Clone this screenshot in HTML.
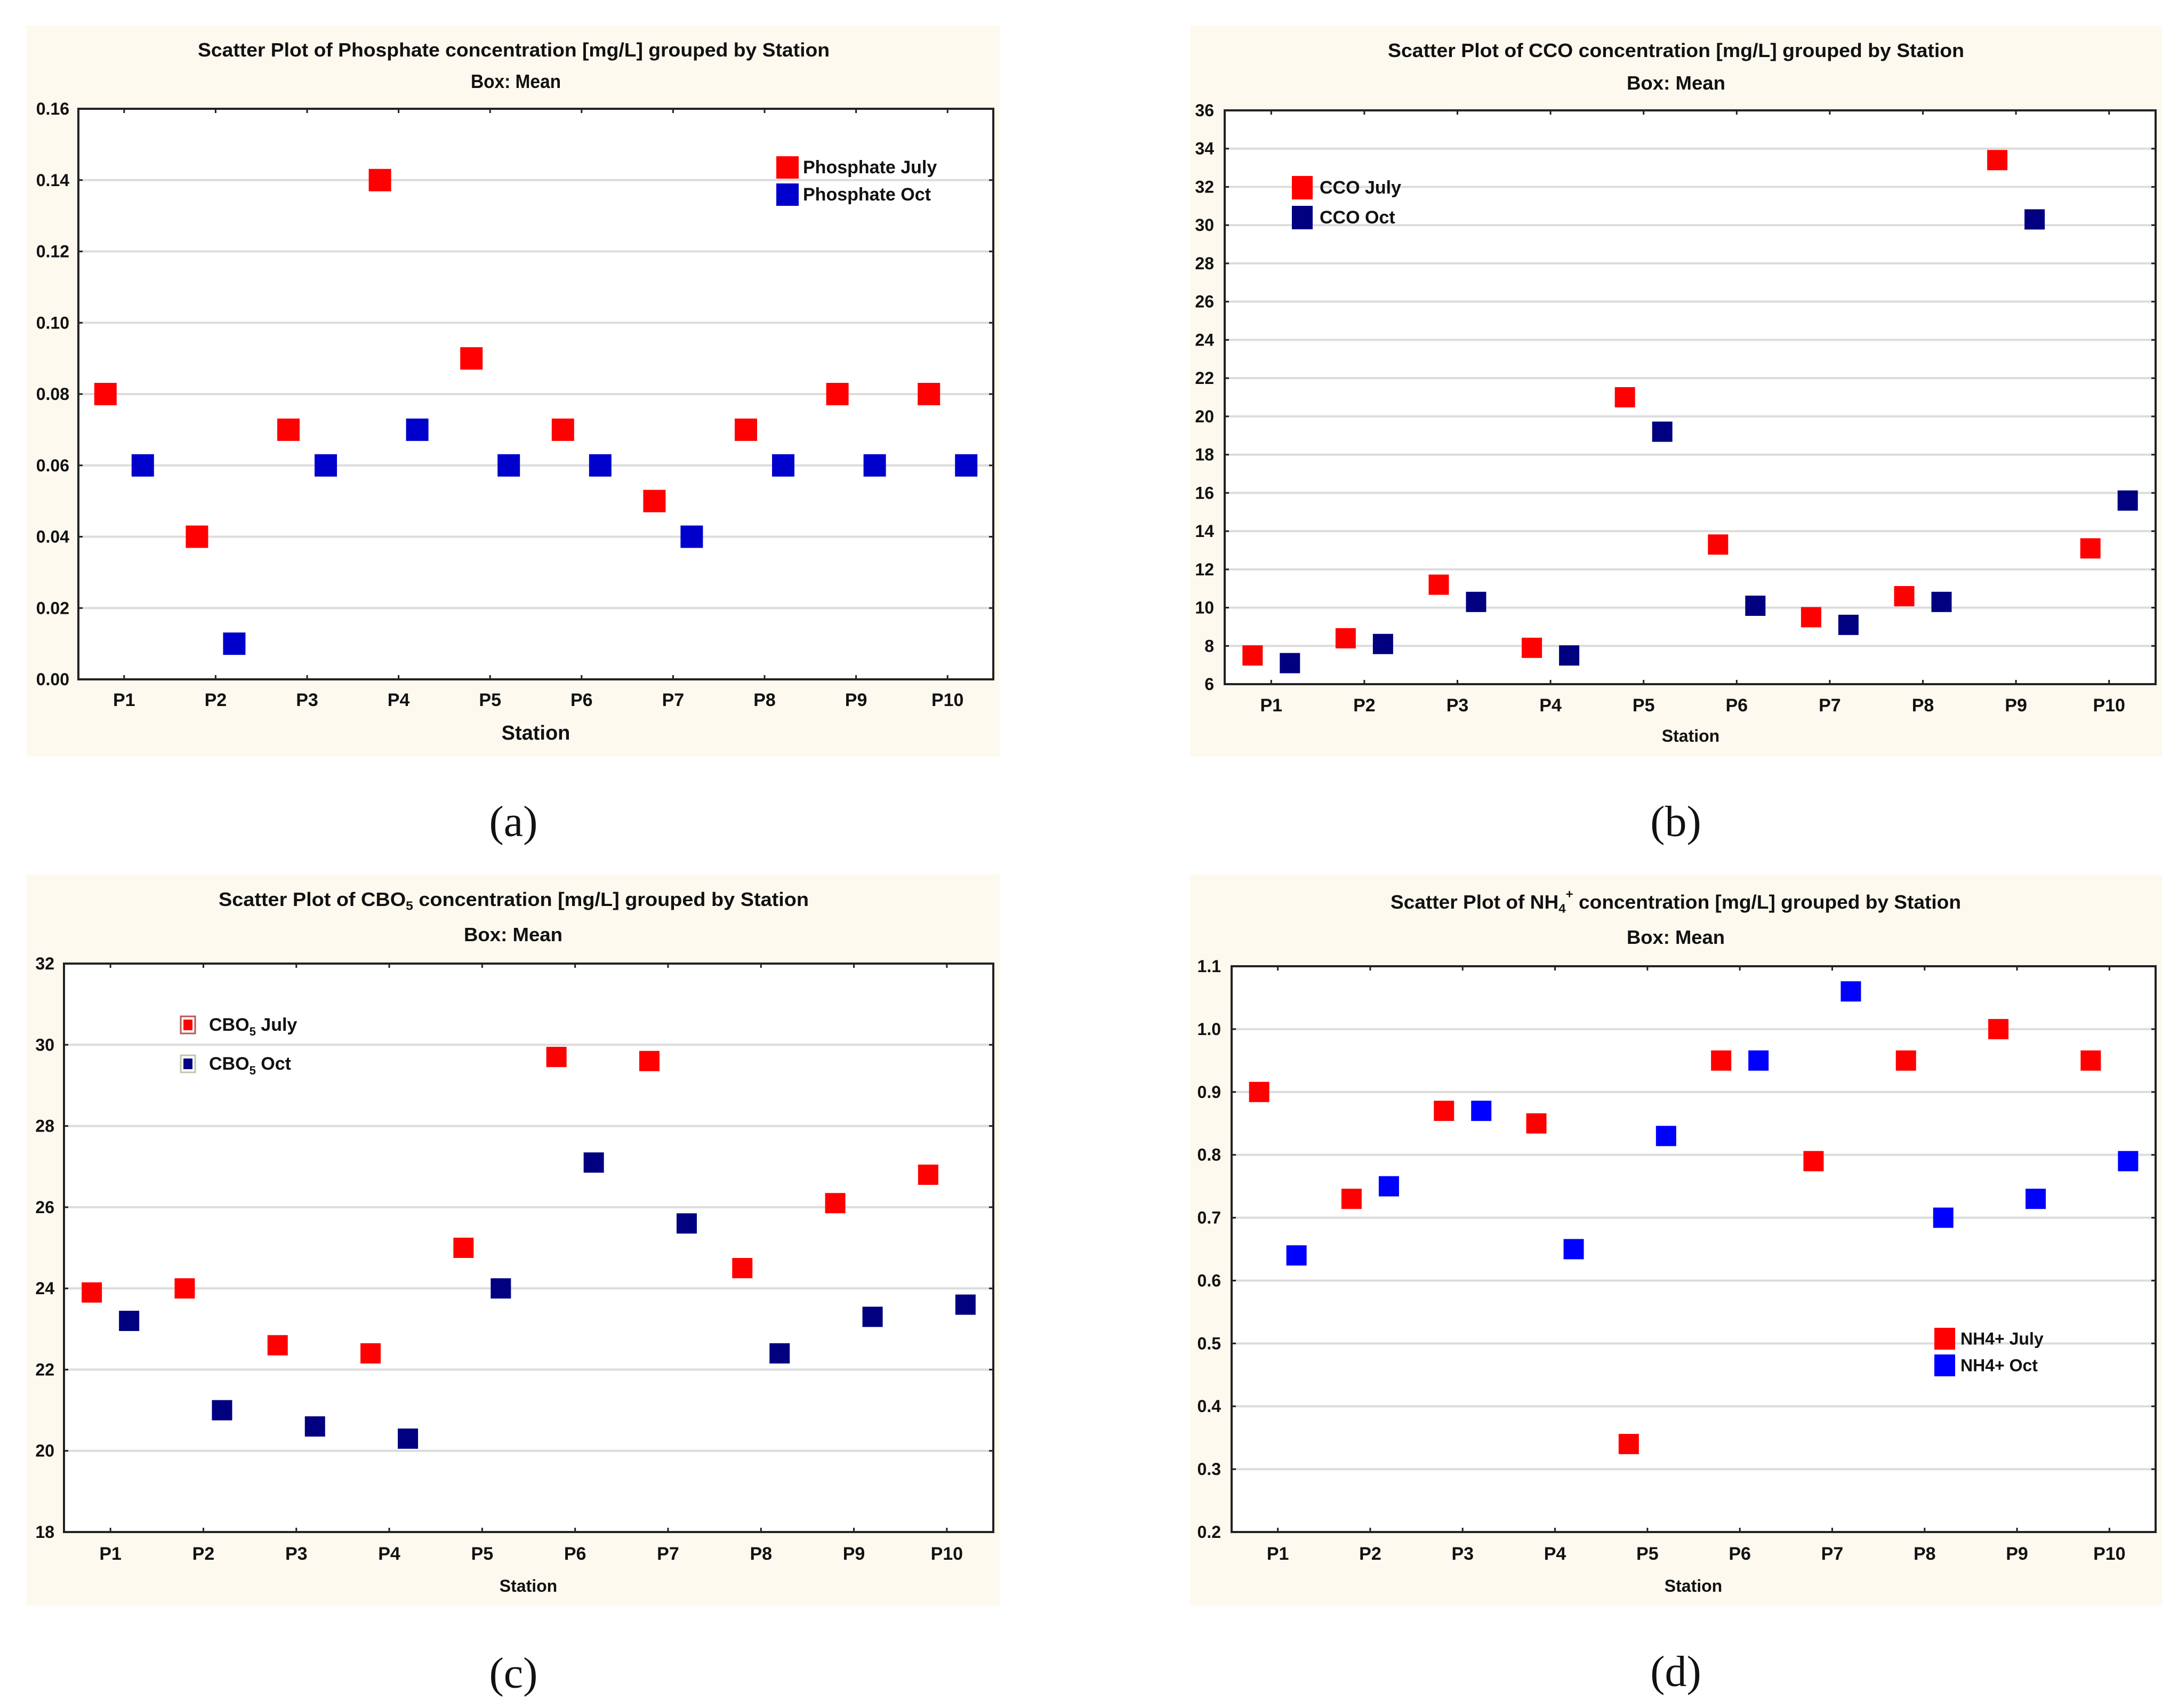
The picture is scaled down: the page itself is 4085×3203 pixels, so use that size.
<!DOCTYPE html>
<html><head><meta charset="utf-8"><style>
html,body{margin:0;padding:0;background:#fff;}
svg{display:block;}
text{font-family:"Liberation Sans",Arial,sans-serif;font-weight:bold;fill:#111;}
.cap{font-family:"Liberation Serif",serif;font-weight:normal;}
</style></head><body>
<svg id="fig" width="4085" height="3203" viewBox="0 0 4085 3203" xmlns="http://www.w3.org/2000/svg"></svg>
<script>
const categories = ["P1","P2","P3","P4","P5","P6","P7","P8","P9","P10"];
const phosJuly = [0.08,0.04,0.07,0.14,0.09,0.07,0.05,0.07,0.08,0.08];
const phosOct  = [0.06,0.01,0.06,0.07,0.06,0.06,0.04,0.06,0.06,0.06];
const phosTicks = ["0.00","0.02","0.04","0.06","0.08","0.10","0.12","0.14","0.16"];
const ccoJuly = [7.5,8.4,11.2,7.9,21,13.3,9.5,10.6,33.4,13.1];
const ccoOct  = [7.1,8.1,10.3,7.5,19.2,10.1,9.1,10.3,30.3,15.6];
const ccoTicks = ["6","8","10","12","14","16","18","20","22","24","26","28","30","32","34","36"];
const cboJuly = [23.9,24,22.6,22.4,25,29.7,29.6,24.5,26.1,26.8];
const cboOct  = [23.2,21,20.6,20.3,24,27.1,25.6,22.4,23.3,23.6];
const cboTicks = ["18","20","22","24","26","28","30","32"];
const nhJuly = [0.9,0.73,0.87,0.85,0.34,0.95,0.79,0.95,1.0,0.95];
const nhOct  = [0.64,0.75,0.87,0.65,0.83,0.95,1.06,0.70,0.73,0.79];
const nhTicks = ["0.2","0.3","0.4","0.5","0.6","0.7","0.8","0.9","1.0","1.1"];

const NS="http://www.w3.org/2000/svg";
const svg=document.getElementById('fig');
function mk(tag,attrs,parent){const e=document.createElementNS(NS,tag);for(const k in attrs)e.setAttribute(k,attrs[k]);(parent||svg).appendChild(e);return e;}

const panels=[
 {id:'a',bg:[50,48,1875,1419],plot:[147,204,1863,1274],ticks:phosTicks,july:phosJuly,oct:phosOct,
  c1:'#ff0000',c2:'#0000cc',ms:42,
  title:[371,1556,93],titleParts:[["Scatter Plot of  Phosphate concentration [mg/L] grouped by Station",0]],
  box:[883,1052,152],tickR:130,catY:1313,stat:[1005,1375,38],cap:[963,1540,'(a)'],
  leg:{type:'big',x:1456,y1:293,y2:344,w:42,h:42,tx:1506,l1:[["Phosphate July",0]],l2:[["Phosphate Oct",0]],fs:34}},
 {id:'b',bg:[2232,48,4055,1419],plot:[2297,207,4043,1283],ticks:ccoTicks,july:ccoJuly,oct:ccoOct,
  c1:'#ff0000',c2:'#000080',ms:38,
  title:[2603,3684,94],titleParts:[["Scatter Plot of  CCO concentration [mg/L] grouped by Station",0]],
  box:[3051,3236,155],tickR:2277,catY:1323,stat:[3171,1380,32],cap:[3143,1540,'(b)'],
  leg:{type:'big',x:2423,y1:330,y2:386,w:39,h:44,tx:2475,l1:[["CCO July",0]],l2:[["CCO  Oct",0]],fs:34}},
 {id:'c',bg:[50,1640,1875,3011],plot:[120,1807,1863,2873],ticks:cboTicks,july:cboJuly,oct:cboOct,
  c1:'#ff0000',c2:'#000080',ms:38,
  title:[410,1517,1686],titleParts:[["Scatter Plot of  CBO",0],["5",1],["  concentration [mg/L] grouped by Station",0]],
  box:[870,1055,1752],tickR:102,catY:2914,stat:[991,2974,32],cap:[963,3137,'(c)'],
  leg:{type:'small',x:339,y1:1906,y2:1979,w:27,h:32,tx:392,l1:[["CBO",0],["5",1],["  July",0]],l2:[["CBO",0],["5",1],["  Oct",0]],fs:34}},
 {id:'d',bg:[2232,1640,4055,3011],plot:[2310,1812,4043,2873],ticks:nhTicks,july:nhJuly,oct:nhOct,
  c1:'#ff0000',c2:'#0000ff',ms:38,
  title:[2608,3678,1691],titleParts:[["Scatter Plot of NH",0],["4",1],["+",2],[" concentration [mg/L] grouped by Station",0]],
  box:[3051,3235,1757],tickR:2290,catY:2914,stat:[3176,2974,32],cap:[3143,3134,'(d)'],
  leg:{type:'big',x:3628,y1:2490,y2:2540,w:39,h:41,tx:3677,l1:[["NH4+ July",0]],l2:[["NH4+  Oct",0]],fs:32}}
];

function richText(g,parts,x,y,fs,len,name){
  const t=mk('text',{x:x,y:y,'font-size':fs,'dominant-baseline':'central'},g);
  
  
  if(len){t.setAttribute('textLength',len);t.setAttribute('lengthAdjust','spacingAndGlyphs');}
  parts.forEach((p,idx)=>{
    const s=mk('tspan',{},t);
    s.textContent=p[0];
    if(p[1]===1){s.setAttribute('font-size',fs*0.65);s.setAttribute('dy',fs*0.35);}
    else if(p[1]===2){s.setAttribute('font-size',fs*0.65);s.setAttribute('dy',-fs*0.75);}
    else if(idx>0){ if(parts[idx-1][1]===1) s.setAttribute('dy',-fs*0.35);
           if(parts[idx-1][1]===2) s.setAttribute('dy',fs*0.4); }
  });
  return t;
}

panels.forEach(P=>{
  const g=mk('g',{});
  
  
  const [bx1,by1,bx2,by2]=P.bg;
  const bg=mk('rect',{x:bx1,y:by1,width:bx2-bx1,height:by2-by1,fill:'#fdf9ef'},g);
  
  
  const [px1,py1,px2,py2]=P.plot;
  const pa=mk('rect',{x:px1,y:py1,width:px2-px1,height:py2-py1,fill:'#fff'},g);
  
  
  const ymin=parseFloat(P.ticks[0]), ymax=parseFloat(P.ticks[P.ticks.length-1]);
  const yS=v=>py2-(v-ymin)/(ymax-ymin)*(py2-py1);
  const band=(px2-px1)/categories.length;
  const xS=i=>px1+band*(i+0.5);
  P.ticks.forEach(tk=>{
    const v=parseFloat(tk), y=yS(v);
    if(v>ymin && v<ymax){
      const gl=mk('line',{x1:px1,x2:px2,y1:y,y2:y,stroke:'#dcdcdc','stroke-width':4},g);
      
      
    }
    mk('line',{x1:px1,x2:px1+8,y1:y,y2:y,stroke:'#222','stroke-width':3},g);
    mk('line',{x1:px2-8,x2:px2,y1:y,y2:y,stroke:'#222','stroke-width':3},g);
    const t=mk('text',{x:P.tickR,y:y,'font-size':32,'text-anchor':'end','dominant-baseline':'central'},g);
    t.textContent=tk;
    
    
  });
  categories.forEach((c,i)=>{
    const x=xS(i);
    mk('line',{x1:x,x2:x,y1:py2,y2:py2-8,stroke:'#222','stroke-width':3},g);
    mk('line',{x1:x,x2:x,y1:py1,y2:py1+8,stroke:'#222','stroke-width':3},g);
    const t=mk('text',{x:x,y:P.catY,'font-size':34,'text-anchor':'middle','dominant-baseline':'central'},g);
    t.textContent=c;
    
    
  });
  const fr=mk('rect',{x:px1,y:py1,width:px2-px1,height:py2-py1,fill:'none',stroke:'#222','stroke-width':4},g);
  
  
  const off=35, ms=P.ms;
  P.july.forEach((v,i)=>{
    const r=mk('rect',{x:xS(i)-off-ms/2,y:yS(v)-ms/2,width:ms,height:ms,fill:P.c1},g);
    
    
  });
  P.oct.forEach((v,i)=>{
    const r=mk('rect',{x:xS(i)+off-ms/2,y:yS(v)-ms/2,width:ms,height:ms,fill:P.c2},g);
    
    
  });
  richText(g,P.titleParts,P.title[0],P.title[2],36,P.title[1]-P.title[0],'chart-title');
  richText(g,[["Box: Mean",0]],P.box[0],P.box[2],36,P.box[1]-P.box[0],'chart-subtitle');
  const st=mk('text',{x:P.stat[0],y:P.stat[1],'font-size':P.stat[2],'text-anchor':'middle','dominant-baseline':'central'},g);
  st.textContent='Station';
  
  
  const cp=mk('text',{x:P.cap[0],y:P.cap[1],'font-size':82,'text-anchor':'middle','dominant-baseline':'central',class:'cap'},g);
  cp.textContent=P.cap[2];
  
  
  const L=P.leg;
  const lg=mk('g',{},g);
  
  
  [[L.y1,P.c1,L.l1,'july'],[L.y2,P.c2,L.l2,'oct']].forEach(e=>{
    if(L.type==='big'){
      const r=mk('rect',{x:L.x,y:e[0],width:L.w,height:L.h,fill:e[1]},lg);
      
      
    } else {
      const r=mk('rect',{x:L.x,y:e[0],width:L.w,height:L.h,fill:'#fff',stroke:e[3]==='july'?'#b55':'#bcc9a8','stroke-width':3},lg);
      
      
      mk('rect',{x:L.x+5,y:e[0]+6,width:L.w-10,height:L.h-12,fill:e[1]},lg);
    }
    richText(lg,e[2],L.tx,e[0]+L.h/2,L.fs,null,'legend-label-'+e[3]);
  });
});
</script>
</body></html>
